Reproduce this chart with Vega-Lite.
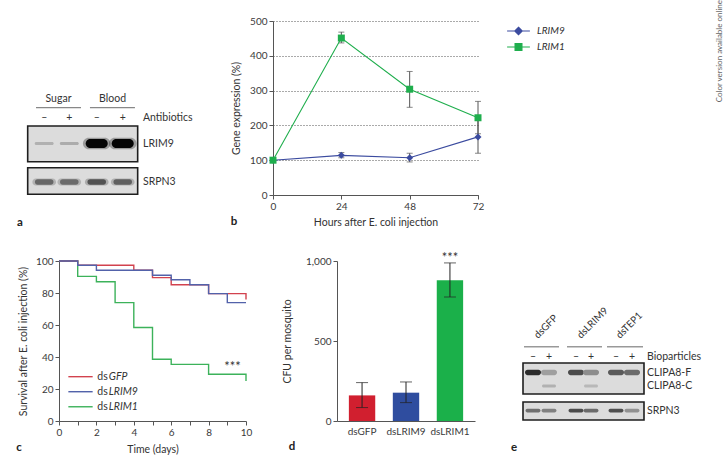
{
  "$schema": "https://vega.github.io/schema/vega-lite/v6.json",
  "padding": 0,
  "background": "white",
  "spacing": 0,
  "config": {
    "font": "Lato",
    "view": {"stroke": null},
    "axis": {"labelFont": "Lato", "titleFont": "Lato", "labelFontSize": 10, "titleFontSize": 10.5, "titleFontWeight": "normal", "labelColor": "#3a3a3a", "titleColor": "#333", "domainColor": "#555", "tickColor": "#555", "tickSize": 4, "labelPadding": 2, "grid": false, "labelOverlap": false, "labelFlush": false},
    "text": {"font": "Lato", "color": "#333"}
  },
  "vconcat": [
    {
      "bounds": "flush",
      "spacing": 0,
      "hconcat": [
        {
          "width": 273, "height": 220,
          "layer": [
            {
              "data": {"values": [
                {"blot": "LRIM9", "l0": 1.065, "l1": 5.295, "t": 10.5, "b": 14.07},
                {"blot": "SRPN3", "l0": 1.065, "l1": 5.295, "t": 14.67, "b": 17.33}
              ]},
              "mark": {"type": "rect", "fill": "#dcdcdc", "stroke": "#1e1e1e", "strokeWidth": 1.6},
              "encoding": {
                "x": {"field": "l0", "type": "quantitative", "scale": {"domain": [0, 10.5], "nice": false, "zero": false}, "axis": null},
                "x2": {"field": "l1"},
                "y": {"field": "t", "type": "quantitative", "scale": {"domain": [0, 22], "reverse": true, "nice": false, "zero": false}, "axis": null},
                "y2": {"field": "b"}
              }
            },
            {
              "data": {"values": [
                {"lane": 3.72, "y": 12.25, "i": 1},
                {"lane": 4.72, "y": 12.25, "i": 1}
              ]},
              "mark": {"type": "point", "filled": true, "opacity": 0.3, "size": 760, "shape": "M-0.58,-0.42L0.58,-0.42A0.42,0.42 0 0 1 0.58,0.42L-0.58,0.42A0.42,0.42 0 0 1 -0.58,-0.42Z"},
              "encoding": {
                "x": {"field": "lane", "type": "quantitative", "scale": {"domain": [0, 10.5], "nice": false, "zero": false}, "axis": null},
                "y": {"field": "y", "type": "quantitative", "scale": {"domain": [0, 22], "reverse": true, "nice": false, "zero": false}, "axis": null},
                "color": {"field": "i", "type": "quantitative", "scale": {"domain": [0, 1], "range": ["#d6d6d6", "#050505"]}, "legend": null}
              }
            },
            {
              "data": {"values": [
                {"lane": 3.72, "y": 12.25, "i": 1},
                {"lane": 4.72, "y": 12.25, "i": 1}
              ]},
              "mark": {"type": "point", "filled": true, "opacity": 1, "size": 484, "shape": "M-0.58,-0.42L0.58,-0.42A0.42,0.42 0 0 1 0.58,0.42L-0.58,0.42A0.42,0.42 0 0 1 -0.58,-0.42Z"},
              "encoding": {
                "x": {"field": "lane", "type": "quantitative", "scale": {"domain": [0, 10.5], "nice": false, "zero": false}, "axis": null},
                "y": {"field": "y", "type": "quantitative", "scale": {"domain": [0, 22], "reverse": true, "nice": false, "zero": false}, "axis": null},
                "color": {"field": "i", "type": "quantitative", "scale": {"domain": [0, 1], "range": ["#d6d6d6", "#050505"]}, "legend": null}
              }
            },
            {
              "data": {"values": [
                {"lane": 1.70, "y": 12.25, "i": 0.16},
                {"lane": 2.665, "y": 12.25, "i": 0.18}
              ]},
              "mark": {"type": "point", "filled": true, "opacity": 1, "size": 361, "shape": "M-0.84,-0.16L0.84,-0.16A0.16,0.16 0 0 1 0.84,0.16L-0.84,0.16A0.16,0.16 0 0 1 -0.84,-0.16Z"},
              "encoding": {
                "x": {"field": "lane", "type": "quantitative", "scale": {"domain": [0, 10.5], "nice": false, "zero": false}, "axis": null},
                "y": {"field": "y", "type": "quantitative", "scale": {"domain": [0, 22], "reverse": true, "nice": false, "zero": false}, "axis": null},
                "color": {"field": "i", "type": "quantitative", "scale": {"domain": [0, 1], "range": ["#d6d6d6", "#050505"]}, "legend": null}
              }
            },
            {
              "data": {"values": [
                {"lane": 1.70, "y": 16.1, "i": 0.5},
                {"lane": 2.665, "y": 16.1, "i": 0.48},
                {"lane": 3.72, "y": 16.1, "i": 0.6},
                {"lane": 4.72, "y": 16.1, "i": 0.54}
              ]},
              "mark": {"type": "point", "filled": true, "opacity": 0.35, "size": 560, "shape": "M-0.7,-0.3L0.7,-0.3A0.3,0.3 0 0 1 0.7,0.3L-0.7,0.3A0.3,0.3 0 0 1 -0.7,-0.3Z"},
              "encoding": {
                "x": {"field": "lane", "type": "quantitative", "scale": {"domain": [0, 10.5], "nice": false, "zero": false}, "axis": null},
                "y": {"field": "y", "type": "quantitative", "scale": {"domain": [0, 22], "reverse": true, "nice": false, "zero": false}, "axis": null},
                "color": {"field": "i", "type": "quantitative", "scale": {"domain": [0, 1], "range": ["#d6d6d6", "#050505"]}, "legend": null}
              }
            },
            {
              "data": {"values": [
                {"lane": 1.70, "y": 16.1, "i": 0.5},
                {"lane": 2.665, "y": 16.1, "i": 0.48},
                {"lane": 3.72, "y": 16.1, "i": 0.6},
                {"lane": 4.72, "y": 16.1, "i": 0.54}
              ]},
              "mark": {"type": "point", "filled": true, "opacity": 1, "size": 360, "shape": "M-0.7,-0.28L0.7,-0.28A0.28,0.28 0 0 1 0.7,0.28L-0.7,0.28A0.28,0.28 0 0 1 -0.7,-0.28Z"},
              "encoding": {
                "x": {"field": "lane", "type": "quantitative", "scale": {"domain": [0, 10.5], "nice": false, "zero": false}, "axis": null},
                "y": {"field": "y", "type": "quantitative", "scale": {"domain": [0, 22], "reverse": true, "nice": false, "zero": false}, "axis": null},
                "color": {"field": "i", "type": "quantitative", "scale": {"domain": [0, 1], "range": ["#d6d6d6", "#050505"]}, "legend": null}
              }
            },
            {
              "data": {"values": [
                {"g": "Sugar", "l0": 1.385, "l1": 3.115, "y": 8.67},
                {"g": "Blood", "l0": 3.46, "l1": 5.19, "y": 8.67}
              ]},
              "mark": {"type": "rule", "color": "#888", "strokeWidth": 1.2},
              "encoding": {
                "x": {"field": "l0", "type": "quantitative", "scale": {"domain": [0, 10.5], "nice": false, "zero": false}, "axis": null},
                "x2": {"field": "l1"},
                "y": {"field": "y", "type": "quantitative", "scale": {"domain": [0, 22], "reverse": true, "nice": false, "zero": false}, "axis": null}
              }
            },
            {
              "data": {"values": [
                {"t": "Sugar", "lane": 2.25, "y": 7.8},
                {"t": "Blood", "lane": 4.33, "y": 7.8},
                {"t": "–", "lane": 1.70, "y": 9.7},
                {"t": "+", "lane": 2.665, "y": 9.7},
                {"t": "–", "lane": 3.72, "y": 9.7},
                {"t": "+", "lane": 4.72, "y": 9.7}
              ]},
              "mark": {"type": "text", "fontSize": 10.5, "align": "center", "baseline": "middle", "color": "#333"},
              "encoding": {
                "x": {"field": "lane", "type": "quantitative", "scale": {"domain": [0, 10.5], "nice": false, "zero": false}, "axis": null},
                "y": {"field": "y", "type": "quantitative", "scale": {"domain": [0, 22], "reverse": true, "nice": false, "zero": false}, "axis": null},
                "text": {"field": "t"}
              }
            },
            {
              "data": {"values": [
                {"t": "Antibiotics", "lane": 5.5, "y": 9.7},
                {"t": "LRIM9", "lane": 5.5, "y": 12.3},
                {"t": "SRPN3", "lane": 5.5, "y": 16.1}
              ]},
              "mark": {"type": "text", "fontSize": 10.5, "align": "left", "baseline": "middle", "color": "#333"},
              "encoding": {
                "x": {"field": "lane", "type": "quantitative", "scale": {"domain": [0, 10.5], "nice": false, "zero": false}, "axis": null},
                "y": {"field": "y", "type": "quantitative", "scale": {"domain": [0, 22], "reverse": true, "nice": false, "zero": false}, "axis": null},
                "text": {"field": "t"}
              }
            },
            {
              "data": {"values": [
                {"t": "a", "lane": 0.77, "y": 20.17},
                {"t": "b", "lane": 9.0, "y": 20.07}
              ]},
              "mark": {"type": "text", "fontSize": 11.5, "fontWeight": "bold", "align": "center", "baseline": "middle", "color": "#222"},
              "encoding": {
                "x": {"field": "lane", "type": "quantitative", "scale": {"domain": [0, 10.5], "nice": false, "zero": false}, "axis": null},
                "y": {"field": "y", "type": "quantitative", "scale": {"domain": [0, 22], "reverse": true, "nice": false, "zero": false}, "axis": null},
                "text": {"field": "t"}
              }
            }
          ]
        },
        {
          "width": 205, "height": 174,
          "data": {"values": [
            {"gene": "LRIM9", "h": 0, "v": 100, "lo": null, "hi": null},
            {"gene": "LRIM9", "h": 24, "v": 114, "lo": 107, "hi": 122},
            {"gene": "LRIM9", "h": 48, "v": 107, "lo": 95, "hi": 120},
            {"gene": "LRIM9", "h": 72, "v": 167, "lo": 120, "hi": 215},
            {"gene": "LRIM1", "h": 0, "v": 100, "lo": null, "hi": null},
            {"gene": "LRIM1", "h": 24, "v": 451, "lo": 437, "hi": 468},
            {"gene": "LRIM1", "h": 48, "v": 304, "lo": 252, "hi": 355},
            {"gene": "LRIM1", "h": 72, "v": 222, "lo": 176, "hi": 269}
          ]},
          "layer": [
            {
              "transform": [{"filter": "datum.lo != null"}],
              "mark": {"type": "errorbar", "color": "#555", "ticks": {"size": 6}, "thickness": 1},
              "encoding": {
                "x": {"field": "h", "type": "quantitative", "scale": {"domain": [0, 72], "nice": false, "zero": false}, "axis": {"values": [0, 24, 48, 72], "tickCount": 10, "format": "d", "title": "Hours after E. coli injection", "titlePadding": 6}},
                "y": {"field": "lo", "type": "quantitative", "scale": {"domain": [0, 500], "nice": false}, "axis": {"values": [0, 100, 200, 300, 400, 500], "tickCount": 10, "format": "d", "grid": true, "gridDash": [1, 2], "gridColor": "#555", "gridWidth": 1, "title": "Gene expression (%)", "titlePadding": 8}},
                "y2": {"field": "hi"}
              }
            },
            {
              "mark": {"type": "line", "strokeWidth": 1.1},
              "encoding": {
                "x": {"field": "h", "type": "quantitative", "scale": {"domain": [0, 72], "nice": false, "zero": false}, "axis": {"values": [0, 24, 48, 72], "tickCount": 10, "format": "d", "title": "Hours after E. coli injection", "titlePadding": 6}},
                "y": {"field": "v", "type": "quantitative", "scale": {"domain": [0, 500], "nice": false}, "axis": {"values": [0, 100, 200, 300, 400, 500], "tickCount": 10, "format": "d", "grid": true, "gridDash": [1, 2], "gridColor": "#555", "gridWidth": 1, "title": "Gene expression (%)", "titlePadding": 8}},
                "color": {"field": "gene", "type": "nominal", "scale": {"domain": ["LRIM9", "LRIM1"], "range": ["#3b4b9f", "#1fae4d"]},
                  "legend": {"orient": "none", "legendX": 240.5, "legendY": 5, "title": null, "padding": 0, "labelFontStyle": "italic", "labelFontSize": 10, "labelColor": "#333", "labelFont": "Lato", "symbolSize": 36, "labelOffset": 13.5, "rowPadding": 4,
                    "encode": {"symbols": {"update": {
                      "shape": {"signal": "datum.value === 'LRIM9' ? 'M-3.8,0H3.8M0,-1.25L1.25,0L0,1.25L-1.25,0Z' : 'M-3.8,0H3.8M-1.15,-1.15H1.15V1.15H-1.15Z'"},
                      "fill": {"signal": "datum.value === 'LRIM9' ? '#3b4b9f' : '#1fae4d'"},
                      "stroke": {"signal": "datum.value === 'LRIM9' ? '#3b4b9f' : '#1fae4d'"},
                      "strokeWidth": {"value": 1.1},
                      "opacity": {"value": 1}
                    }}}
                  }
                }
              }
            },
            {
              "mark": {"type": "point", "filled": true, "opacity": 1, "size": 49},
              "encoding": {
                "x": {"field": "h", "type": "quantitative"},
                "y": {"field": "v", "type": "quantitative"},
                "color": {"field": "gene", "type": "nominal", "scale": {"domain": ["LRIM9", "LRIM1"], "range": ["#3b4b9f", "#1fae4d"]}, "legend": null},
                "shape": {"field": "gene", "type": "nominal", "scale": {"domain": ["LRIM9", "LRIM1"], "range": ["diamond", "square"]}, "legend": null}
              }
            }
          ]
        },
        {
          "width": 240, "height": 100,
          "data": {"values": [{"t": "Color version available online", "x": 24.2, "y": -2.1}]},
          "mark": {"type": "text", "angle": 270, "align": "right", "baseline": "middle", "fontSize": 8, "color": "#666"},
          "encoding": {
            "x": {"field": "x", "type": "quantitative", "scale": {"domain": [0, 24], "nice": false, "zero": false}, "axis": null},
            "y": {"field": "y", "type": "quantitative", "scale": {"domain": [0, 10], "reverse": true, "nice": false, "zero": false}, "axis": null},
            "text": {"field": "t"}
          }
        }
      ]
    },
    {
      "bounds": "flush",
      "spacing": 0,
      "hconcat": [
        {
          "width": 59, "height": 195,
          "data": {"values": [{}]},
          "mark": {"type": "text", "text": " "}
        },
        {
          "width": 187, "height": 160,
          "layer": [
            {
              "data": {"values": [
                {"g": "dsLRIM1", "d": 0, "s": 100}, {"g": "dsLRIM1", "d": 1, "s": 90.4}, {"g": "dsLRIM1", "d": 2, "s": 87}, {"g": "dsLRIM1", "d": 3, "s": 74}, {"g": "dsLRIM1", "d": 4, "s": 58.4}, {"g": "dsLRIM1", "d": 5, "s": 38.6}, {"g": "dsLRIM1", "d": 6, "s": 35.4}, {"g": "dsLRIM1", "d": 8, "s": 29.2}, {"g": "dsLRIM1", "d": 10, "s": 25},
                {"g": "dsGFP", "d": 0, "s": 100}, {"g": "dsGFP", "d": 1, "s": 97.3}, {"g": "dsGFP", "d": 4, "s": 94.2}, {"g": "dsGFP", "d": 5, "s": 89.6}, {"g": "dsGFP", "d": 6, "s": 85.2}, {"g": "dsGFP", "d": 8, "s": 79.6}, {"g": "dsGFP", "d": 10, "s": 76},
                {"g": "dsLRIM9", "d": 0, "s": 100}, {"g": "dsLRIM9", "d": 1, "s": 97.3}, {"g": "dsLRIM9", "d": 2, "s": 94.2}, {"g": "dsLRIM9", "d": 5, "s": 91.1}, {"g": "dsLRIM9", "d": 6, "s": 88.3}, {"g": "dsLRIM9", "d": 7, "s": 85.2}, {"g": "dsLRIM9", "d": 8, "s": 79.6}, {"g": "dsLRIM9", "d": 9, "s": 74}, {"g": "dsLRIM9", "d": 10, "s": 74}
              ]},
              "mark": {"type": "line", "interpolate": "step-after", "strokeWidth": 1.4},
              "encoding": {
                "x": {"field": "d", "type": "quantitative", "scale": {"domain": [0, 10], "nice": false, "zero": false}, "axis": {"values": [0, 1, 2, 3, 4, 5, 6, 7, 8, 9, 10], "tickCount": 20, "format": "d", "labelExpr": "datum.value % 2 === 0 ? datum.label : ''", "title": "Time (days)", "titlePadding": 7}},
                "y": {"field": "s", "type": "quantitative", "scale": {"domain": [0, 100], "nice": false}, "axis": {"values": [0, 20, 40, 60, 80, 100], "tickCount": 10, "format": "d", "title": "Survival after E. coli injection (%)", "titlePadding": 7}},
                "color": {"field": "g", "type": "nominal", "scale": {"domain": ["dsGFP", "dsLRIM9", "dsLRIM1"], "range": ["#d2424e", "#5262aa", "#3cb25a"]}, "legend": null}
              }
            },
            {
              "data": {"values": [
                {"g": "dsGFP", "gene": "GFP", "l0": 0.5, "l1": 1.8, "ly": 27.7, "tx": 2.05},
                {"g": "dsLRIM9", "gene": "LRIM9", "l0": 0.5, "l1": 1.8, "ly": 18.3, "tx": 2.05},
                {"g": "dsLRIM1", "gene": "LRIM1", "l0": 0.5, "l1": 1.8, "ly": 8.9, "tx": 2.05}
              ]},
              "layer": [
                {
                  "mark": {"type": "rule", "strokeWidth": 1.4},
                  "encoding": {
                    "x": {"field": "l0", "type": "quantitative"},
                    "x2": {"field": "l1"},
                    "y": {"field": "ly", "type": "quantitative"},
                    "color": {"field": "g", "type": "nominal", "scale": {"domain": ["dsGFP", "dsLRIM9", "dsLRIM1"], "range": ["#d2424e", "#5262aa", "#3cb25a"]}, "legend": null}
                  }
                },
                {
                  "mark": {"type": "text", "text": "ds", "align": "left", "baseline": "middle", "fontSize": 10.5, "color": "#333"},
                  "encoding": {
                    "x": {"field": "tx", "type": "quantitative"},
                    "y": {"field": "ly", "type": "quantitative"}
                  }
                },
                {
                  "mark": {"type": "text", "align": "left", "baseline": "middle", "fontSize": 10.5, "fontStyle": "italic", "dx": 11.5, "color": "#333"},
                  "encoding": {
                    "x": {"field": "tx", "type": "quantitative"},
                    "y": {"field": "ly", "type": "quantitative"},
                    "text": {"field": "gene"}
                  }
                }
              ]
            },
            {
              "data": {"values": [{"t": "***", "d": 9.28, "s": 33.5}]},
              "mark": {"type": "text", "fontSize": 13, "align": "center", "baseline": "middle", "color": "#333"},
              "encoding": {
                "x": {"field": "d", "type": "quantitative"},
                "y": {"field": "s", "type": "quantitative"},
                "text": {"field": "t"}
              }
            }
          ]
        },
        {
          "width": 91, "height": 195,
          "data": {"values": [{"t": "d", "x": 4.6, "y": 18.6}]},
          "mark": {"type": "text", "fontSize": 11.5, "fontWeight": "bold", "align": "center", "baseline": "middle", "color": "#222"},
          "encoding": {
            "x": {"field": "x", "type": "quantitative", "scale": {"domain": [0, 9.1], "nice": false, "zero": false}, "axis": null},
            "y": {"field": "y", "type": "quantitative", "scale": {"domain": [0, 19.5], "reverse": true, "nice": false, "zero": false}, "axis": null},
            "text": {"field": "t"}
          }
        },
        {
          "width": 138, "height": 160,
          "data": {"values": [
            {"g": "dsGFP", "m": 160, "lo": 84, "hi": 240, "sig": ""},
            {"g": "dsLRIM9", "m": 177, "lo": 115, "hi": 244, "sig": ""},
            {"g": "dsLRIM1", "m": 879, "lo": 775, "hi": 988, "sig": "***"}
          ]},
          "layer": [
            {
              "mark": {"type": "bar"},
              "encoding": {
                "x": {"field": "g", "type": "nominal", "sort": null, "scale": {"paddingInner": 0.4, "paddingOuter": 0.27}, "axis": {"title": null, "labelAngle": 0, "ticks": false, "labelPadding": 5, "labelFontSize": 10}},
                "y": {"field": "m", "type": "quantitative", "scale": {"domain": [0, 1000], "nice": false}, "axis": {"values": [0, 500, 1000], "tickCount": 10, "format": ",.0f", "title": "CFU per mosquito", "titlePadding": 13}},
                "color": {"field": "g", "type": "nominal", "scale": {"domain": ["dsGFP", "dsLRIM9", "dsLRIM1"], "range": ["#d11f2f", "#2f4d9f", "#1bb04a"]}, "legend": null}
              }
            },
            {
              "mark": {"type": "errorbar", "color": "#222", "ticks": {"size": 12}, "thickness": 1},
              "encoding": {
                "x": {"field": "g", "type": "nominal", "sort": null, "axis": {"title": null, "labelAngle": 0, "ticks": false, "labelPadding": 5, "labelFontSize": 10}},
                "y": {"field": "lo", "type": "quantitative", "axis": {"values": [0, 500, 1000], "tickCount": 10, "format": ",.0f", "title": "CFU per mosquito", "titlePadding": 13}},
                "y2": {"field": "hi"}
              }
            },
            {
              "mark": {"type": "text", "fontSize": 13, "align": "center", "baseline": "middle", "dy": -5, "color": "#333"},
              "encoding": {
                "x": {"field": "g", "type": "nominal", "sort": null, "axis": {"title": null, "labelAngle": 0, "ticks": false, "labelPadding": 5, "labelFontSize": 10}},
                "y": {"field": "hi", "type": "quantitative", "axis": {"values": [0, 500, 1000], "tickCount": 10, "format": ",.0f", "title": "CFU per mosquito", "titlePadding": 13}},
                "text": {"field": "sig"}
              }
            }
          ]
        },
        {
          "width": 241, "height": 195,
          "layer": [
            {
              "data": {"values": [
                {"blot": "CLIPA8", "l0": 4.8, "l1": 16.9, "t": 10.2, "b": 13.3},
                {"blot": "SRPN3", "l0": 4.8, "l1": 16.9, "t": 14.1, "b": 15.9}
              ]},
              "mark": {"type": "rect", "fill": "#dcdcdc", "stroke": "#1e1e1e", "strokeWidth": 1.6},
              "encoding": {
                "x": {"field": "l0", "type": "quantitative", "scale": {"domain": [0, 24.1], "nice": false, "zero": false}, "axis": null},
                "x2": {"field": "l1"},
                "y": {"field": "t", "type": "quantitative", "scale": {"domain": [0, 19.5], "reverse": true, "nice": false, "zero": false}, "axis": null},
                "y2": {"field": "b"}
              }
            },
            {
              "data": {"values": [{"l0": 0, "l1": 0.1, "t": -2.0, "b": 0}]},
              "mark": {"type": "rect", "fill": "#ffffff", "opacity": 0},
              "encoding": {
                "x": {"field": "l0", "type": "quantitative", "scale": {"domain": [0, 24.1], "nice": false, "zero": false}, "axis": null},
                "x2": {"field": "l1"},
                "y": {"field": "t", "type": "quantitative", "scale": {"domain": [0, 19.5], "reverse": true, "nice": false, "zero": false}, "axis": null},
                "y2": {"field": "b"}
              }
            },
            {
              "data": {"values": [
                {"lane": 5.8, "y": 11.15, "i": 0.8},
                {"lane": 7.4, "y": 11.15, "i": 0.24},
                {"lane": 10.1, "y": 11.15, "i": 0.64},
                {"lane": 11.6, "y": 11.15, "i": 0.32},
                {"lane": 14.1, "y": 11.15, "i": 0.56},
                {"lane": 15.7, "y": 11.15, "i": 0.48}
              ]},
              "mark": {"type": "point", "filled": true, "opacity": 1, "size": 256, "shape": "M-0.67,-0.33L0.67,-0.33A0.33,0.33 0 0 1 0.67,0.33L-0.67,0.33A0.33,0.33 0 0 1 -0.67,-0.33Z"},
              "encoding": {
                "x": {"field": "lane", "type": "quantitative", "scale": {"domain": [0, 24.1], "nice": false, "zero": false}, "axis": null},
                "y": {"field": "y", "type": "quantitative", "scale": {"domain": [0, 19.5], "reverse": true, "nice": false, "zero": false}, "axis": null},
                "color": {"field": "i", "type": "quantitative", "scale": {"domain": [0, 1], "range": ["#d6d6d6", "#050505"]}, "legend": null}
              }
            },
            {
              "data": {"values": [
                {"lane": 7.4, "y": 12.5, "i": 0.16},
                {"lane": 11.6, "y": 12.5, "i": 0.13}
              ]},
              "mark": {"type": "point", "filled": true, "opacity": 1, "size": 196, "shape": "M-0.78,-0.22L0.78,-0.22A0.22,0.22 0 0 1 0.78,0.22L-0.78,0.22A0.22,0.22 0 0 1 -0.78,-0.22Z"},
              "encoding": {
                "x": {"field": "lane", "type": "quantitative", "scale": {"domain": [0, 24.1], "nice": false, "zero": false}, "axis": null},
                "y": {"field": "y", "type": "quantitative", "scale": {"domain": [0, 19.5], "reverse": true, "nice": false, "zero": false}, "axis": null},
                "color": {"field": "i", "type": "quantitative", "scale": {"domain": [0, 1], "range": ["#d6d6d6", "#050505"]}, "legend": null}
              }
            },
            {
              "data": {"values": [
                {"lane": 5.8, "y": 14.95, "i": 0.46},
                {"lane": 7.4, "y": 14.95, "i": 0.38},
                {"lane": 10.1, "y": 14.95, "i": 0.64},
                {"lane": 11.6, "y": 14.95, "i": 0.48},
                {"lane": 14.1, "y": 14.95, "i": 0.62},
                {"lane": 15.7, "y": 14.95, "i": 0.3}
              ]},
              "mark": {"type": "point", "filled": true, "opacity": 1, "size": 225, "shape": "M-0.75,-0.25L0.75,-0.25A0.25,0.25 0 0 1 0.75,0.25L-0.75,0.25A0.25,0.25 0 0 1 -0.75,-0.25Z"},
              "encoding": {
                "x": {"field": "lane", "type": "quantitative", "scale": {"domain": [0, 24.1], "nice": false, "zero": false}, "axis": null},
                "y": {"field": "y", "type": "quantitative", "scale": {"domain": [0, 19.5], "reverse": true, "nice": false, "zero": false}, "axis": null},
                "color": {"field": "i", "type": "quantitative", "scale": {"domain": [0, 1], "range": ["#d6d6d6", "#050505"]}, "legend": null}
              }
            },
            {
              "data": {"values": [
                {"g": "dsGFP", "l0": 4.9, "l1": 8.4, "y": 8.57},
                {"g": "dsLRIM9", "l0": 9.2, "l1": 12.7, "y": 8.57},
                {"g": "dsTEP1", "l0": 13.2, "l1": 16.8, "y": 8.57}
              ]},
              "mark": {"type": "rule", "color": "#999", "strokeWidth": 1.5},
              "encoding": {
                "x": {"field": "l0", "type": "quantitative", "scale": {"domain": [0, 24.1], "nice": false, "zero": false}, "axis": null},
                "x2": {"field": "l1"},
                "y": {"field": "y", "type": "quantitative", "scale": {"domain": [0, 19.5], "reverse": true, "nice": false, "zero": false}, "axis": null}
              }
            },
            {
              "data": {"values": [
                {"t": "dsGFP", "lane": 6.3, "y": 7.8},
                {"t": "dsLRIM9", "lane": 10.6, "y": 7.8},
                {"t": "dsTEP1", "lane": 14.5, "y": 7.8}
              ]},
              "mark": {"type": "text", "angle": 315, "fontSize": 10, "align": "left", "baseline": "alphabetic", "color": "#333"},
              "encoding": {
                "x": {"field": "lane", "type": "quantitative", "scale": {"domain": [0, 24.1], "nice": false, "zero": false}, "axis": null},
                "y": {"field": "y", "type": "quantitative", "scale": {"domain": [0, 19.5], "reverse": true, "nice": false, "zero": false}, "axis": null},
                "text": {"field": "t"}
              }
            },
            {
              "data": {"values": [
                {"t": "–", "lane": 5.8, "y": 9.6},
                {"t": "+", "lane": 7.4, "y": 9.6},
                {"t": "–", "lane": 10.1, "y": 9.6},
                {"t": "+", "lane": 11.6, "y": 9.6},
                {"t": "–", "lane": 14.1, "y": 9.6},
                {"t": "+", "lane": 15.7, "y": 9.6}
              ]},
              "mark": {"type": "text", "fontSize": 10.5, "align": "center", "baseline": "middle", "color": "#333"},
              "encoding": {
                "x": {"field": "lane", "type": "quantitative", "scale": {"domain": [0, 24.1], "nice": false, "zero": false}, "axis": null},
                "y": {"field": "y", "type": "quantitative", "scale": {"domain": [0, 19.5], "reverse": true, "nice": false, "zero": false}, "axis": null},
                "text": {"field": "t"}
              }
            },
            {
              "data": {"values": [
                {"t": "Bioparticles", "lane": 17.2, "y": 9.6},
                {"t": "CLIPA8-F", "lane": 17.2, "y": 11.2},
                {"t": "CLIPA8-C", "lane": 17.2, "y": 12.5},
                {"t": "SRPN3", "lane": 17.2, "y": 14.95}
              ]},
              "mark": {"type": "text", "fontSize": 10.5, "align": "left", "baseline": "middle", "color": "#333"},
              "encoding": {
                "x": {"field": "lane", "type": "quantitative", "scale": {"domain": [0, 24.1], "nice": false, "zero": false}, "axis": null},
                "y": {"field": "y", "type": "quantitative", "scale": {"domain": [0, 19.5], "reverse": true, "nice": false, "zero": false}, "axis": null},
                "text": {"field": "t"}
              }
            },
            {
              "data": {"values": [{"t": "e", "lane": 3.9, "y": 18.7}, {"t": "c", "lane": -45.6, "y": 18.7}]},
              "mark": {"type": "text", "fontSize": 11.5, "fontWeight": "bold", "align": "center", "baseline": "middle", "color": "#222"},
              "encoding": {
                "x": {"field": "lane", "type": "quantitative", "scale": {"domain": [0, 24.1], "nice": false, "zero": false}, "axis": null},
                "y": {"field": "y", "type": "quantitative", "scale": {"domain": [0, 19.5], "reverse": true, "nice": false, "zero": false}, "axis": null},
                "text": {"field": "t"}
              }
            }
          ]
        }
      ]
    }
  ]
}
